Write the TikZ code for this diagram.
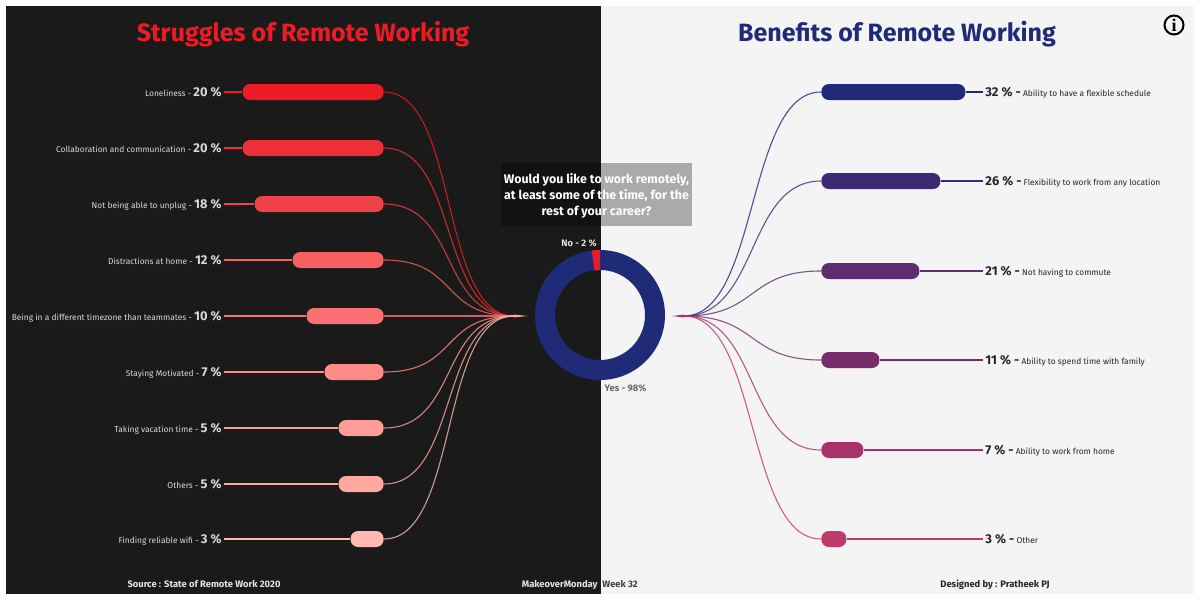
\documentclass[tikz,border=0pt]{standalone}
\usepackage{fontspec}
\setmainfont{Fira Sans}
\newfontfamily\infofont{Liberation Serif}
\usetikzlibrary{positioning}
\definecolor{panel}{HTML}{1A1A1A}
\definecolor{paper}{HTML}{F4F4F5}
\definecolor{navy}{HTML}{1F2A78}
\definecolor{redA}{HTML}{ED1C24}
\definecolor{redB}{HTML}{EF2F37}
\definecolor{redC}{HTML}{F04249}
\definecolor{redD}{HTML}{F75F60}
\definecolor{redE}{HTML}{FB7073}
\definecolor{redF}{HTML}{FF8B87}
\definecolor{redG}{HTML}{FF9E98}
\definecolor{redH}{HTML}{FFA8A0}
\definecolor{redI}{HTML}{FFB9AE}
\definecolor{bluA}{HTML}{1F2A78}
\definecolor{bluB}{HTML}{3D2976}
\definecolor{bluC}{HTML}{5E2D70}
\definecolor{bluD}{HTML}{772C6C}
\definecolor{bluE}{HTML}{A8336A}
\definecolor{bluF}{HTML}{C0396B}
\newcommand{\bigpct}[1]{{\fontsize{6.4}{8}\selectfont\bfseries #1}}
\tikzset{
    bar/.style = {rectangle, rounded corners=3.7pt, minimum height=8pt, inner sep=0pt},
    barL/.style = {bar, anchor=east},
    barR/.style = {bar, anchor=west},
    itemL/.style = {anchor=east, inner sep=1pt, text height=4pt, text depth=0pt, text=white!85!black, font=\fontsize{4.2}{6}\selectfont},
    itemR/.style = {anchor=west, inner sep=1pt, text height=4pt, text depth=0pt, text=black!85, font=\fontsize{4.2}{6}\selectfont},
    heading/.style = {font=\fontsize{12.5}{15}\selectfont\bfseries},
    foot/.style = {font=\fontsize{4.7}{6}\selectfont\bfseries},
    curve/.style = {opacity=0.8, to path={.. controls +(75,0) and +(-75,0) .. (\tikztotarget)}},
    link/.style = {line width=0.55pt}
}
\begin{document}
\begin{tikzpicture}[x=0.5pt, y=-0.5pt]
    \useasboundingbox (0,0) rectangle (1200,600);
    \fill [white] (0,0) rectangle (1200,600);
    \fill [panel] (6,6) rectangle (601,594);
    \fill [paper] (601,6) rectangle (1194,594);

    \node (TitleL) [heading, text=redA] at (303,34) {Struggles of Remote Working};
    \node (TitleR) [heading, text=navy] at (897,34) {Benefits of Remote Working};
    \node (Info) [circle, draw=black, line width=1pt, minimum size=9.5pt, inner sep=0pt,
        font=\fontsize{9}{9}\selectfont\bfseries\infofont] at (1174,25) {i};

    % left side
    \node (L1) [barL, fill=redA, minimum width=70.5pt] at (384,92) {};
    \node (L2) [barL, fill=redB, minimum width=70.5pt] at (384,148) {};
    \node (L3) [barL, fill=redC, minimum width=64.5pt] at (384,204) {};
    \node (L4) [barL, fill=redD, minimum width=45.5pt] at (384,260) {};
    \node (L5) [barL, fill=redE, minimum width=38.5pt] at (384,316) {};
    \node (L6) [barL, fill=redF, minimum width=29.5pt] at (384,372) {};
    \node (L7) [barL, fill=redG, minimum width=22.5pt] at (384,428) {};
    \node (L8) [barL, fill=redH, minimum width=22.5pt] at (384,484) {};
    \node (L9) [barL, fill=redI, minimum width=16.5pt] at (384,539) {};

    \node (T1) [itemL] at (224,92) {Loneliness - \bigpct{20 \%}};
    \node (T2) [itemL] at (224,148) {Collaboration and communication - \bigpct{20 \%}};
    \node (T3) [itemL] at (224,204) {Not being able to unplug - \bigpct{18 \%}};
    \node (T4) [itemL] at (224,260) {Distractions at home - \bigpct{12 \%}};
    \node (T5) [itemL] at (224,316) {Being in a different timezone than teammates - \bigpct{10 \%}};
    \node (T6) [itemL] at (224,372) {Staying Motivated - \bigpct{7 \%}};
    \node (T7) [itemL] at (224,428) {Taking vacation time - \bigpct{5 \%}};
    \node (T8) [itemL] at (224,484) {Others - \bigpct{5 \%}};
    \node (T9) [itemL] at (224,539) {Finding reliable wifi - \bigpct{3 \%}};

    \coordinate (HubL) at (514,316);
    \coordinate (TipL) at (528,316);

    \path [link]
        (T1) edge [redA] (L1)
        (T2) edge [redB] (L2)
        (T3) edge [redC] (L3)
        (T4) edge [redD] (L4)
        (T5) edge [redE] (L5)
        (T6) edge [redF] (L6)
        (T7) edge [redG] (L7)
        (T8) edge [redH] (L8)
        (T9) edge [redI] (L9)
        (L1.east) edge [redA, curve] (HubL)
        (L2.east) edge [redB, curve] (HubL)
        (L3.east) edge [redC, curve] (HubL)
        (L4.east) edge [redD, curve] (HubL)
        (L5.east) edge [redE, curve] (HubL)
        (L6.east) edge [redF, curve] (HubL)
        (L7.east) edge [redG, curve] (HubL)
        (L8.east) edge [redH, curve] (HubL)
        (L9.east) edge [redI, curve] (HubL);
    \fill [redH] ([yshift=0.7pt]HubL) -- (TipL) -- ([yshift=-0.7pt]HubL) -- cycle;

    % right side
    \node (R1) [barR, fill=bluA, minimum width=72pt] at (821,92) {};
    \node (R2) [barR, fill=bluB, minimum width=59.5pt] at (821,181) {};
    \node (R3) [barR, fill=bluC, minimum width=49pt] at (821,271) {};
    \node (R4) [barR, fill=bluD, minimum width=29pt] at (821,360) {};
    \node (R5) [barR, fill=bluE, minimum width=21pt] at (821,450) {};
    \node (R6) [barR, fill=bluF, minimum width=12.5pt] at (821,539) {};

    \node (B1) [itemR] at (983,92) {\bigpct{32 \% -} Ability to have a flexible schedule};
    \node (B2) [itemR] at (983,181) {\bigpct{26 \% -} Flexibility to work from any location};
    \node (B3) [itemR] at (983,271) {\bigpct{21 \% -} Not having to commute};
    \node (B4) [itemR] at (983,360) {\bigpct{11 \% -} Ability to spend time with family};
    \node (B5) [itemR] at (983,450) {\bigpct{7 \% -} Ability to work from home};
    \node (B6) [itemR] at (983,539) {\bigpct{3 \% -} Other};

    \coordinate (HubR) at (684,316);
    \coordinate (TipR) at (672,316);

    \path [link]
        (R1) edge [bluA] (B1)
        (R2) edge [bluB] (B2)
        (R3) edge [bluC] (B3)
        (R4) edge [bluD] (B4)
        (R5) edge [bluE] (B5)
        (R6) edge [bluF] (B6)
        (HubR) edge [bluA, curve] (R1.west)
        (HubR) edge [bluB, curve] (R2.west)
        (HubR) edge [bluC, curve] (R3.west)
        (HubR) edge [bluD, curve] (R4.west)
        (HubR) edge [bluE, curve] (R5.west)
        (HubR) edge [bluF, curve] (R6.west);
    \fill [bluE] ([yshift=0.7pt]HubR) -- (TipR) -- ([yshift=-0.7pt]HubR) -- cycle;

    % ring
    \fill [navy, even odd rule] (600,315) circle [radius=65] (600,315) circle [radius=45];
    \fill [redA] ([shift={(600,315)}]-97.2:65) arc [start angle=-97.2, end angle=-90, radius=65]
        -- ([shift={(600,315)}]-90:45) arc [start angle=-90, end angle=-97.2, radius=45] -- cycle;

    \fill [black, opacity=0.3] (501,163) rectangle (692,226);
    \node (Question) [text=white, align=center, font=\fontsize{6.2}{8}\selectfont\bfseries] at (596.5,195.5)
        {Would you like to work remotely,\\at least some of the time, for the\\rest of your career?};
    \node (No) [foot, text=white!88!black] at (579,243) {No - 2 \%};
    \node (Yes) [foot, text=black!60] at (625.5,388) {Yes - 98\%};

    % footer
    \node (Source) [foot, text=white!90!black] at (204,584.5) {Source : State of Remote Work 2020};
    \node (Makeover) [foot, text=white!90!black, anchor=east, inner sep=0pt] at (598,584.5) {MakeoverMonday};
    \node (Week) [foot, text=black!75, anchor=west, inner sep=0pt] at (602,584.5) {Week 32};
    \node (Design) [foot, text=black!85] at (995,584.5) {Designed by : Pratheek PJ};
\end{tikzpicture}
\end{document}
